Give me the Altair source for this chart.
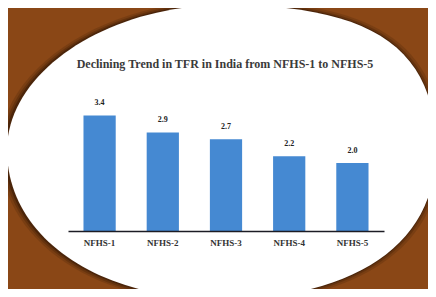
import altair as alt
import pandas as pd

# ---- data ----
title_text = "Declining Trend in TFR in India from NFHS-1 to NFHS-5"
surveys = ["NFHS-1", "NFHS-2", "NFHS-3", "NFHS-4", "NFHS-5"]
tfr = [3.4, 2.9, 2.7, 2.2, 2.0]
labels = ["3.4", "2.9", "2.7", "2.2", "2.0"]

df = pd.DataFrame({"survey": surveys, "tfr": tfr, "label": labels})

# ---- layout (plot area) ----
W, H = 316, 136
PAD = {"left": 60, "top": 87, "right": 44, "bottom": 58}

# ---- decorative oval backdrop (custom symbol path, unit coords) ----
CX, CY, S = 221.0, 152.0, 216.0   # oval centre / scale in page px
PLOT_X0, PLOT_Y0 = 68.0, 95.0

def n(p):
    return ((p[0] - CX) / S, (p[1] - CY) / S)

R, T, L, B = n((436, 150)), n((225, 5)), n((7, 150)), n((220, 299))
k_ur, k_ul, k_ll, k_lr = 0.70, 0.54, 0.58, 0.63

def f(p):
    return f"{p[0]:.4f} {p[1]:.4f}"

segs = [
    (R, (R[0], R[1] + k_ur * (T[1] - R[1])), (T[0] + k_ur * (R[0] - T[0]), T[1]), T),
    (T, (T[0] + k_ul * (L[0] - T[0]), T[1]), (L[0], L[1] + k_ul * (T[1] - L[1])), L),
    (L, (L[0], L[1] + k_ll * (B[1] - L[1])), (B[0] + k_ll * (L[0] - B[0]), B[1]), B),
    (B, (B[0] + k_lr * (R[0] - B[0]), B[1]), (R[0], R[1] + k_lr * (B[1] - R[1])), R),
]
path = "M " + f(R) + " " + " ".join(f"C {f(a)} {f(b)} {f(c)}" for _, a, b, c in segs) + " Z"

one = alt.Data(values=[{"t": title_text}])
ox, oy = CX - PLOT_X0, CY - PLOT_Y0

shadows = [
    alt.Chart(one).mark_point(shape=path, size=(2 * S * sc) ** 2, filled=True,
                              color="#1e0c02", opacity=op, strokeWidth=0)
    .encode(x=alt.value(ox - 1), y=alt.value(oy))
    for sc, op in [(1.03, 0.15), (1.018, 0.22), (1.008, 0.35)]
]
oval = alt.Chart(one).mark_point(shape=path, size=(2 * S) ** 2, filled=True,
                                 color="white", opacity=1, strokeWidth=0).encode(
    x=alt.value(ox), y=alt.value(oy))

title = alt.Chart(one).mark_text(font="Liberation Serif", fontWeight="bold",
                                 fontSize=12, color="#3a3a3a", align="center",
                                 baseline="middle").encode(
    x=alt.value(W / 2 - 1), y=alt.value(64 - PLOT_Y0), text="t:N")

base = alt.Chart(df)
x_enc = alt.X("survey:N", sort=surveys, title=None,
              scale=alt.Scale(paddingInner=0.49, paddingOuter=0.245),
              axis=alt.Axis(labelAngle=0, ticks=False, domainColor="#1c1c24",
                            domainWidth=1.6, labelFont="Liberation Serif",
                            labelFontWeight="bold", labelFontSize=9,
                            labelColor="#333333", labelPadding=7, grid=False,
                            zindex=1))
y_enc = alt.Y("tfr:Q", scale=alt.Scale(domain=[0, 4]), axis=None)

bars = base.mark_bar(color="#4589d2").encode(x=x_enc, y=y_enc)
vals = base.mark_text(dy=-8, font="Liberation Serif", fontWeight="bold",
                      fontSize=8, color="#222222", baseline="bottom").encode(
    x=alt.X("survey:N", sort=surveys), y="tfr:Q", text="label:N")

chart = alt.layer(*shadows, oval, title, bars, vals).properties(
    width=W, height=H,
    padding=PAD,
    autosize=alt.AutoSizeParams(type="none"),
    background="#8a4716",
).configure_view(stroke=None)

chart.save("out.html", embed_options={"renderer": "svg", "actions": False})
